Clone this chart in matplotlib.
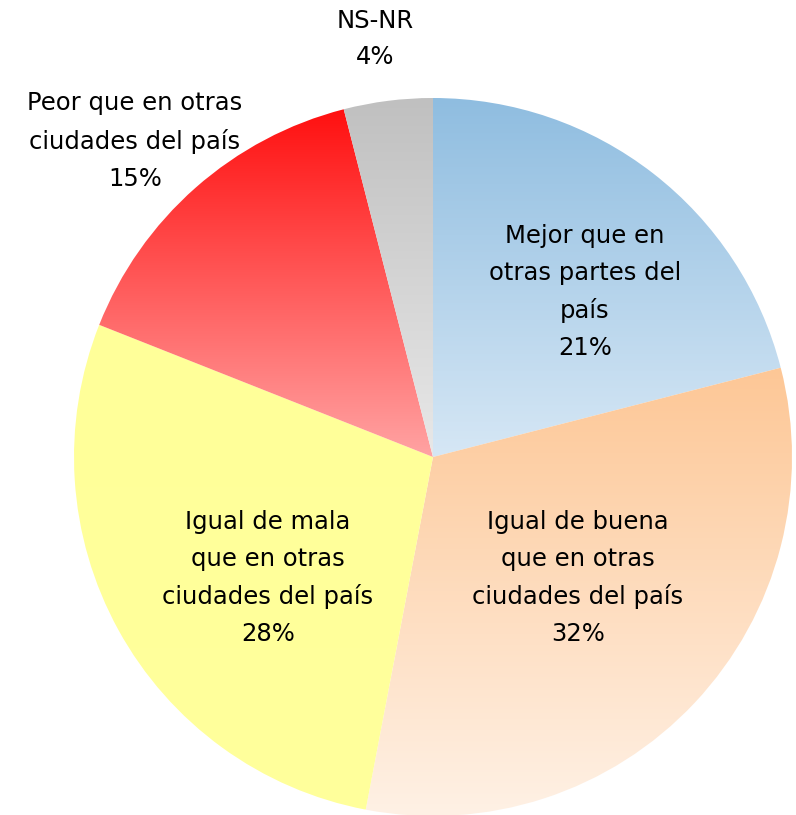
import numpy as np
import matplotlib.pyplot as plt
from matplotlib.colors import LinearSegmentedColormap

# Data
labels = ['Mejor que en\notras partes del\npaís', 'Igual de buena\nque en otras\nciudades del país',
          'Igual de mala\nque en otras\nciudades del país', 'Peor que en otras\nciudades del país', 'NS-NR']
values = [21, 32, 28, 15, 4]
# top / bottom colours of each wedge gradient
top_colors = ['#8fbde0', '#fdc796', '#ffff99', '#ff1010', '#c0c0c0']
bottom_colors = ['#d6e7f5', '#fff1e5', '#ffff9c', '#ffa3a3', '#e8e8e8']

W, H = 796, 815
fig = plt.figure(figsize=(W / 100, H / 100), dpi=100)
ax = fig.add_axes([0, 0, 1, 1])

cx, cy, r = 433, H - 457, 359
wedges, _ = ax.pie(values, startangle=90, counterclock=False, center=(cx, cy),
                   radius=r, frame=True, wedgeprops=dict(linewidth=0))
ax.set_aspect('equal')
ax.axis('off')

grad = np.linspace(0, 1, 256).reshape(-1, 1)
for w, c1, c2 in zip(wedges, top_colors, bottom_colors):
    w.set_facecolor('none')
    bb = w.get_path().get_extents(w.get_transform() - ax.transData)
    cmap = LinearSegmentedColormap.from_list('g', [c1, c2])
    im = ax.imshow(grad, cmap=cmap, aspect='auto', origin='upper',
                   extent=[bb.x0, bb.x1, bb.y0, bb.y1], zorder=1)
    im.set_clip_path(w)
ax.set_xlim(0, W)
ax.set_ylim(0, H)

# label positions (pixel coords from top)
label_pos = [(585, 292), (578, 578), (268, 578), (135, 141), (375, 39)]
for lab, v, (x, y) in zip(labels, values, label_pos):
    ax.text(x, H - y, f'{lab}\n{v}%', ha='center', va='center', fontsize=17.5,
            linespacing=1.68, color='black', zorder=3)

fig.savefig('out.png', dpi=100)
